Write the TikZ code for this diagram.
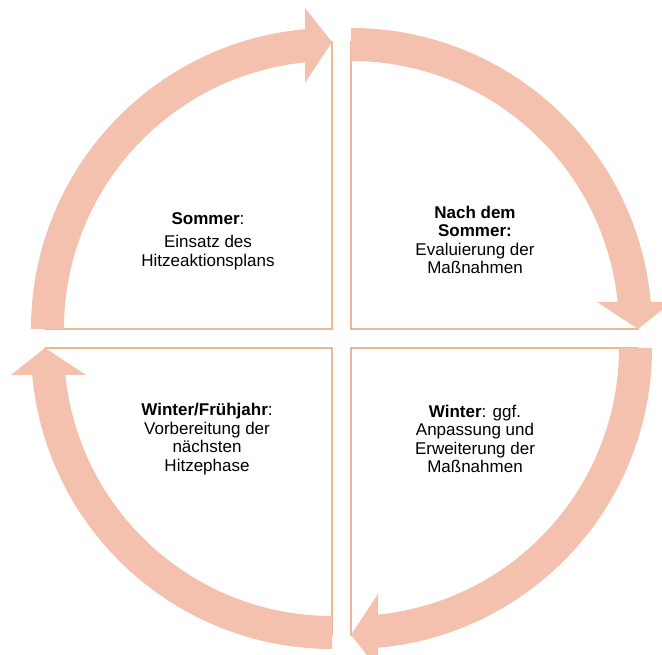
\documentclass[tikz,border=0pt]{standalone}
\usepackage{fontspec}
\setmainfont{Liberation Sans}
\definecolor{bandfill}{RGB}{244,193,174}
\definecolor{edgeline}{RGB}{229,145,95}
\begin{document}
\begin{tikzpicture}[x=1pt,y=1pt,
  sector/.style={draw=edgeline,line width=1.3pt,fill=white},
  band/.style={fill=bandfill,draw=none},
  label/.style={align=center,font=\fontsize{17}{18.5}\selectfont,text=black,inner sep=0pt}]
\useasboundingbox (0,0) rectangle (662,655);
% quadrant sectors
\foreach \cx/\cy/\rot in {332/326/0, 351/326/-90, 351/307/-180, 332/307/-270}{
  \begin{scope}[shift={(\cx,\cy)},rotate=\rot]
    \draw[sector] (0,0) -- (-287,0) arc[start angle=180,end angle=90,radius=287] -- cycle;
  \end{scope}
}
% curved block arrows
\foreach \cx/\cy/\rot in {332/326/0, 351/326/-90, 351/307/-180, 332/307/-270}{
  \begin{scope}[shift={(\cx,\cy)},rotate=\rot]
    \fill[band] (-268,0) -- (-301,0) arc[start angle=180,end angle=95.146,radius=301]
      -- (-27,321) -- (0,287) -- (-27,246)
      -- (95.782:268) arc[start angle=95.782,end angle=180,radius=268] -- cycle;
  \end{scope}
}
\node[label] (tl) at (208,414) {\textbf{Sommer}:\\[5pt]Einsatz des\\Hitzeaktionsplans};
\node[label] (tr) at (475,415) {\textbf{Nach dem}\\\textbf{Sommer:}\\Evaluierung der\\Maßnahmen};
\node[label] (br) at (475,216) {\textbf{Winter}: ggf.\\Anpassung und\\Erweiterung der\\Maßnahmen};
\node[label] (bl) at (207,216) {\textbf{Winter/Frühjahr}:\\Vorbereitung der\\nächsten\\Hitzephase};
\end{tikzpicture}
\end{document}
